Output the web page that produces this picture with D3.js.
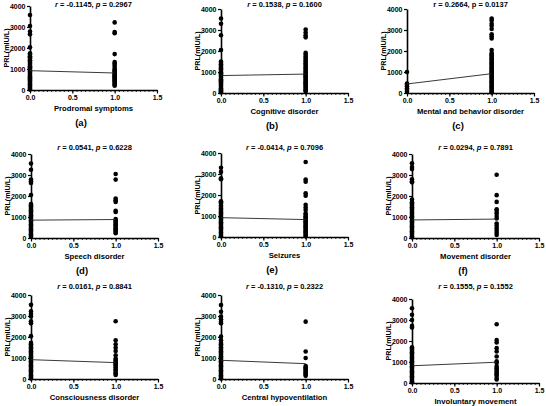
<!DOCTYPE html>
<html>
<head>
<meta charset="utf-8">
<script src="https://cdn.jsdelivr.net/npm/d3@7"></script>
<style>
  body { margin: 0; background: #fff; }
  svg text { font-family: "Liberation Sans", Arial, sans-serif; font-weight: bold; }
</style>
</head>
<body>
<svg width="546" height="406"></svg>
<script>
// one entry per panel, (a) .. (i)
var labels = ["Prodromal symptoms", "Cognitive disorder", "Mental and behavior disorder",
              "Speech disorder", "Seizures", "Movement disorder",
              "Consciousness disorder", "Central hypoventilation", "Involuntary movement"];
var letters = ["(a)", "(b)", "(c)", "(d)", "(e)", "(f)", "", "", ""];
var rVals = ["-0.1145", "0.1538", "0.2664", "0.0541", "-0.0414", "0.0294", "0.0161", "-0.1310", "0.1555"];
var pVals = ["0.2967", "0.1600", "0.0137", "0.6228", "0.7096", "0.7891", "0.8841", "0.2322", "0.1552"];
var italicStats = [true, true, false, true, true, true, true, true, true];

// fitted line, PRL at x = 0 and x = 1
var fitLines = [[920, 810], [830, 900], [430, 920], [850, 880], [920, 830],
                [860, 900], [920, 780], [890, 730], [820, 990]];

// PRL (mIU/L) for symptom absent (x = 0)
var absent = [
  [3570, 3050, 2780, 2650, 2030, 1750, 1680, 1610, 1560, 1490, 1420, 1380, 1310, 1250, 1190, 1130, 1080, 1020, 960, 910, 870, 820, 760, 710, 660, 600, 560, 500, 450, 400, 350, 300, 260, 210, 160, 110, 60, 20],
  [3550, 3300, 2750, 2050, 1500, 1430, 1370, 1300, 1240, 1180, 1120, 1050, 990, 940, 880, 830, 770, 720, 660, 610, 560, 500, 450, 390, 340, 290, 230, 180, 130, 80, 30],
  [1000, 450, 400, 320, 230, 140, 60],
  [3550, 3250, 2780, 2700, 2620, 2050, 1620, 1560, 1500, 1440, 1380, 1320, 1260, 1200, 1140, 1080, 1020, 960, 900, 840, 780, 720, 660, 600, 540, 480, 420, 360, 300, 240, 180, 120, 60],
  [3300, 3100, 2800, 2750, 1700, 1650, 1580, 1500, 1430, 1360, 1300, 1240, 1180, 1120, 1060, 1000, 940, 880, 820, 760, 700, 640, 580, 520, 460, 400, 340, 280, 220, 160, 100, 40],
  [3560, 3380, 3280, 2800, 2700, 2650, 1830, 1700, 1640, 1580, 1520, 1460, 1400, 1340, 1280, 1220, 1160, 1100, 1040, 980, 920, 860, 800, 740, 680, 620, 560, 500, 440, 380, 320, 260, 200, 140, 80, 30],
  [3530, 3220, 3100, 2980, 2750, 2650, 2040, 1720, 1650, 1580, 1510, 1440, 1380, 1320, 1260, 1200, 1140, 1080, 1020, 960, 900, 840, 780, 720, 660, 600, 540, 480, 420, 360, 300, 240, 180, 120, 60, 20],
  [3520, 3200, 2970, 2850, 2730, 2650, 2020, 1850, 1720, 1650, 1580, 1510, 1440, 1380, 1320, 1260, 1200, 1140, 1080, 1020, 960, 900, 840, 780, 720, 660, 600, 540, 480, 420, 360, 300, 240, 180, 120, 60, 20],
  [3560, 3250, 3000, 2720, 2640, 1700, 1640, 1580, 1520, 1460, 1400, 1340, 1280, 1220, 1160, 1100, 1040, 980, 920, 860, 800, 740, 680, 620, 560, 500, 440, 380, 320, 260, 200, 140, 80, 30]
];

// PRL (mIU/L) for symptom present (x = 1)
var present = [
  [3220, 2760, 2700, 1710, 1330, 1260, 1190, 1100, 1000, 950, 900, 870, 800, 760, 700, 660, 610, 550, 500, 450, 400, 350, 300, 250, 200],
  [3020, 2880, 2750, 2650, 1920, 1830, 1740, 1660, 1560, 1490, 1420, 1340, 1280, 1210, 1150, 1090, 1020, 970, 910, 850, 790, 740, 680, 620, 570, 510, 460, 400, 350, 290, 240, 180, 120, 70],
  [3550, 3450, 3300, 3200, 3050, 2800, 2700, 2600, 2050, 1900, 1840, 1780, 1720, 1650, 1590, 1530, 1470, 1400, 1340, 1280, 1220, 1160, 1100, 1040, 980, 920, 860, 800, 740, 680, 620, 560, 500, 440, 380, 320, 260, 200, 140, 80, 30],
  [3050, 2780, 1880, 1800, 1720, 1300, 1240, 900, 830, 770, 710, 650, 590, 530, 470, 410, 350, 290, 230],
  [3570, 2740, 2630, 2080, 1970, 1530, 1400, 1290, 1130, 1060, 990, 930, 870, 810, 750, 690, 630, 570, 510, 450, 390, 330, 270, 210, 150, 90, 40],
  [3010, 2040, 1720, 1370, 1290, 1180, 1050, 930, 690, 580, 470, 350, 240, 140],
  [2750, 1840, 1650, 1490, 1330, 1130, 970, 900, 860, 800, 740, 680, 630, 550, 470, 390, 310, 250, 190],
  [2730, 1310, 1000, 620, 560, 500, 440, 380, 320, 260, 200, 150],
  [2800, 2050, 1930, 1660, 1500, 1260, 1030, 950, 790, 700, 630, 550, 470, 400, 350, 240, 170]
];

var xTicks = [0, 0.5, 1.0, 1.5];
var yTicks = [0, 1000, 2000, 3000, 4000];

// panel placement: left, top of plot area, title baseline
var frames = [
  [30, 6, 7], [221, 9, 7], [407, 9, 7],
  [31, 154, 150], [221, 153, 150], [412, 154, 150],
  [31, 295, 289], [221, 295, 289], [412, 299, 289]
];
var pw = 127, ph = 84;

var svg = d3.select("svg");

labels.forEach(function(lab, i) {
  var left = frames[i][0], top = frames[i][1];
  var g = svg.append("g").attr("transform", "translate(" + left + "," + top + ")");

  var x = d3.scaleLinear().domain([0, 1.5]).range([0, pw]);
  var y = d3.scaleLinear().domain([0, 4000]).range([ph, 0]);

  // minor x ticks
  g.append("g")
      .attr("transform", "translate(0," + ph + ")")
      .call(d3.axisBottom(x).tickValues(d3.range(0, 1.51, 0.05)).tickSize(2).tickFormat(""))
      .call(function(a) { a.select(".domain").remove(); a.selectAll("line").attr("stroke-width", 0.8); });

  g.append("g")
      .attr("transform", "translate(0," + ph + ")")
      .call(d3.axisBottom(x).tickValues(xTicks).tickSize(3.5).tickSizeOuter(0).tickPadding(1.5).tickFormat(d3.format(".1f")))
      .call(function(a) {
        a.select(".domain").attr("stroke-width", 1.6);
        a.selectAll("line").attr("stroke-width", 1.2);
        a.selectAll("text").attr("font-size", 7).attr("fill", "#000");
      });

  g.append("g")
      .call(d3.axisLeft(y).tickValues(yTicks).tickSize(3).tickSizeOuter(0).tickPadding(1.5).tickFormat(d3.format("d")))
      .call(function(a) {
        a.select(".domain").attr("stroke-width", 1.6);
        a.selectAll("line").attr("stroke-width", 1.2);
        a.selectAll("text").attr("font-size", 7).attr("fill", "#000");
      });

  // points
  g.selectAll(".p0").data(absent[i]).enter().append("circle")
      .attr("cx", x(0)).attr("cy", function(d) { return y(d); })
      .attr("r", 2.3).attr("fill", "#000");
  g.selectAll(".p1").data(present[i]).enter().append("circle")
      .attr("cx", x(1)).attr("cy", function(d) { return y(d); })
      .attr("r", 2.3).attr("fill", "#000");

  // fit line
  g.append("line")
      .attr("x1", x(0)).attr("y1", y(fitLines[i][0]))
      .attr("x2", x(1)).attr("y2", y(fitLines[i][1]))
      .attr("stroke", "#222").attr("stroke-width", 0.9);

  // title
  var t = svg.append("text")
      .attr("x", left + pw / 2).attr("y", frames[i][2])
      .attr("text-anchor", "middle").attr("font-size", 7.5);
  t.append("tspan").attr("font-style", italicStats[i] ? "italic" : "normal").text("r");
  t.append("tspan").text(" = " + rVals[i] + ", ");
  t.append("tspan").attr("font-style", italicStats[i] ? "italic" : "normal").text("p");
  t.append("tspan").text(" = " + pVals[i]);

  // axis titles
  svg.append("text")
      .attr("transform", "translate(" + (left - 21) + "," + (top + ph / 2) + ") rotate(-90)")
      .attr("text-anchor", "middle").attr("font-size", 7.2)
      .text("PRL(mIU/L)");
  svg.append("text")
      .attr("x", left + pw / 2).attr("y", top + ph + 20.5)
      .attr("text-anchor", "middle").attr("font-size", 7.7)
      .text(lab);

  if (letters[i]) {
    svg.append("text")
        .attr("x", left + 51).attr("y", top + ph + 36)
        .attr("text-anchor", "middle").attr("font-size", 9.5)
        .text(letters[i]);
  }
});
</script>
</body>
</html>
